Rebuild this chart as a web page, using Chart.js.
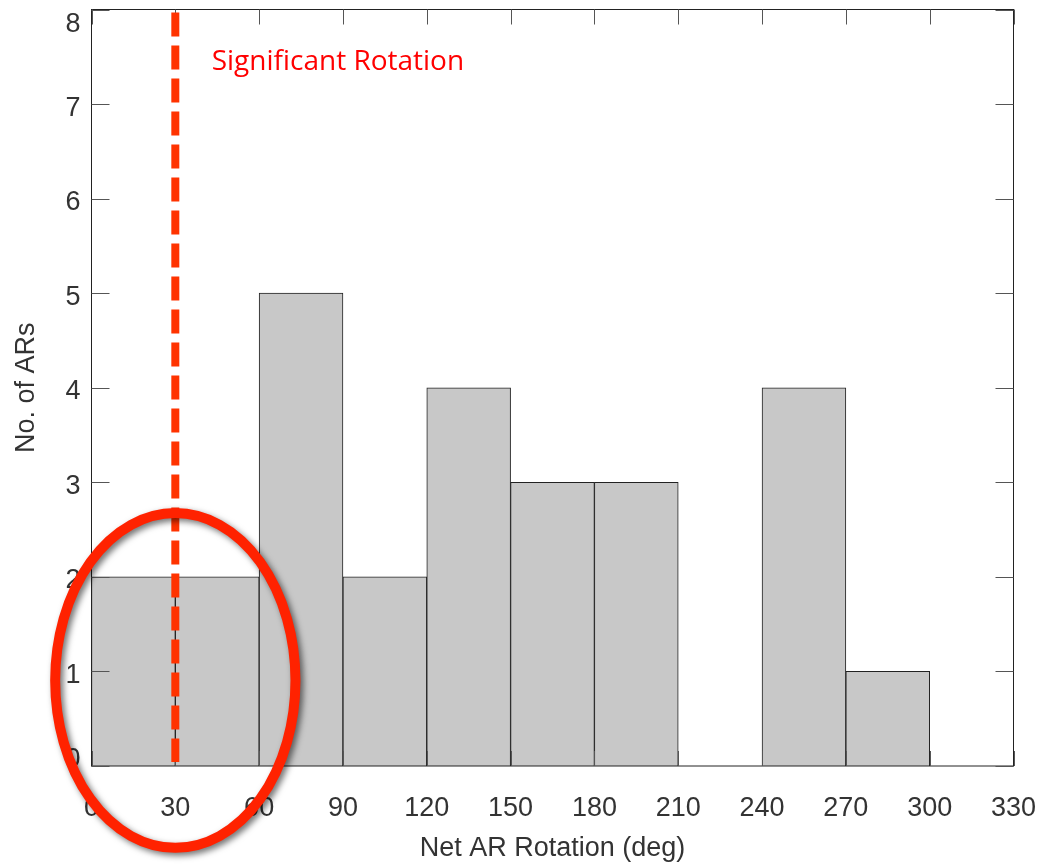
<!DOCTYPE html>
<html>
<head>
<meta charset="utf-8">
<script src="https://cdn.jsdelivr.net/npm/chart.js@4/dist/chart.umd.min.js"></script>
<style>
    html, body { margin: 0; padding: 0; background: #fff; }
    #grafico { display: block; }
</style>
</head>
<body>
<canvas id="grafico" width="1040" height="865"></canvas>
<script>
// Histograma de rotación neta de regiones activas (bins de 30 grados)
const binInicio = [0, 30, 60, 90, 120, 150, 180, 210, 240, 270, 300];
const conteos = [2, 2, 5, 2, 4, 3, 3, 0, 4, 1, 0];
const anchoBin = 30;
const ticksX = [0, 30, 60, 90, 120, 150, 180, 210, 240, 270, 300, 330];
const ticksY = [0, 1, 2, 3, 4, 5, 6, 7, 8];
const umbralRotacion = 30;
const textoUmbral = 'Significant Rotation';

const fuente = "'Liberation Sans', Helvetica, Arial, sans-serif";
const gris = '#333';

// Marco, ticks interiores, línea de umbral, elipse y texto
const anotaciones = {
    id: 'anotaciones',
    afterDraw(chart) {
        const { ctx, chartArea: a, scales: { x, y } } = chart;
        ctx.save();

        // marco
        ctx.strokeStyle = '#222';
        ctx.lineWidth = 1;
        ctx.strokeRect(a.left, a.top, a.right - a.left, a.bottom - a.top);

        // ticks hacia dentro en los cuatro lados
        ctx.strokeStyle = '#555';
        ctx.beginPath();
        ticksX.forEach(v => {
            const px = Math.round(x.getPixelForValue(v)) + 0.5;
            ctx.moveTo(px, a.bottom); ctx.lineTo(px, a.bottom - 15);
            ctx.moveTo(px, a.top); ctx.lineTo(px, a.top + 15);
        });
        ticksY.forEach(v => {
            const py = Math.round(y.getPixelForValue(v)) + 0.5;
            ctx.moveTo(a.left, py); ctx.lineTo(a.left + 18, py);
            ctx.moveTo(a.right, py); ctx.lineTo(a.right - 18, py);
        });
        ctx.stroke();

        // línea discontinua del umbral
        const xu = x.getPixelForValue(umbralRotacion);
        ctx.strokeStyle = '#ff3300';
        ctx.lineWidth = 8;
        ctx.setLineDash([24, 9]);
        ctx.beginPath();
        ctx.moveTo(xu, a.top + 3);
        ctx.lineTo(xu, a.bottom - 4);
        ctx.stroke();
        ctx.setLineDash([]);

        // texto
        ctx.fillStyle = '#ff0000';
        ctx.font = "28px 'Open Sans', 'Noto Sans', sans-serif";
        ctx.textAlign = 'left';
        ctx.textBaseline = 'alphabetic';
        ctx.fillText(textoUmbral, x.getPixelForValue(43), y.getPixelForValue(7.36));

        // elipse con sombra alrededor de los dos primeros bins
        const cx = x.getPixelForValue(umbralRotacion);
        const cy = y.getPixelForValue(0.905);
        const rx = x.getPixelForValue(43) - x.getPixelForValue(0);
        const ry = y.getPixelForValue(0) - y.getPixelForValue(1.77);
        ctx.shadowColor = 'rgba(0,0,0,0.55)';
        ctx.shadowBlur = 6;
        ctx.shadowOffsetX = 3;
        ctx.shadowOffsetY = 3;
        ctx.strokeStyle = '#ff2200';
        ctx.lineWidth = 10;
        ctx.beginPath();
        ctx.ellipse(cx, cy, rx, ry, 0, 0, Math.PI * 2);
        ctx.stroke();

        ctx.restore();
    }
};

new Chart(document.getElementById('grafico').getContext('2d'), {
    type: 'bar',
    data: {
        datasets: [{
            label: 'No. of ARs',
            data: binInicio.map((b, i) => ({ x: b + anchoBin / 2, y: conteos[i] })),
            backgroundColor: '#c8c8c8',
            borderColor: '#222',
            borderWidth: 1,
            barPercentage: 1,
            categoryPercentage: 1
        }]
    },
    options: {
        responsive: false,
        animation: false,
        devicePixelRatio: 1,
        layout: { padding: { left: 0, top: 9.5, right: 26.5, bottom: 0 } },
        plugins: {
            legend: { display: false },
            tooltip: { enabled: false }
        },
        scales: {
            x: {
                type: 'linear',
                offset: false,
                min: 0,
                max: 330,
                grid: { display: false },
                border: { display: false },
                afterBuildTicks: s => { s.ticks = ticksX.map(v => ({ value: v })); },
                afterFit: s => {
                    s.height = 99;
                    s.paddingLeft = 0;
                    s.paddingRight = 0;
                },
                ticks: {
                    padding: 18.5,
                    color: gris,
                    font: { family: fuente, size: 27 },
                    maxRotation: 0,
                    autoSkip: false
                },
                title: {
                    display: true,
                    text: 'Net AR Rotation (deg)',
                    color: gris,
                    font: { family: fuente, size: 27 },
                    padding: { top: 0, bottom: 0 }
                }
            },
            y: {
                min: 0,
                max: 8,
                grid: { display: false, drawTicks: false },
                border: { display: false },
                afterBuildTicks: s => { s.ticks = ticksY.map(v => ({ value: v })); },
                afterFit: s => {
                    s.width = 91.5;
                    s.paddingTop = 0;
                    s.paddingBottom = 0;
                },
                ticks: {
                    padding: 11,
                    labelOffset: 4,
                    color: gris,
                    font: { family: fuente, size: 27, lineHeight: 0.8 },
                    // el 8 y el 0 se meten hacia dentro del eje
                    callback: v => v === 8 ? ['', '8'] : v === 0 ? ['0', ''] : String(v)
                },
                title: {
                    display: true,
                    text: 'No. of ARs',
                    color: gris,
                    font: { family: fuente, size: 27 },
                    padding: { top: 10, bottom: 0 }
                }
            }
        }
    },
    plugins: [anotaciones]
});
</script>
</body>
</html>
